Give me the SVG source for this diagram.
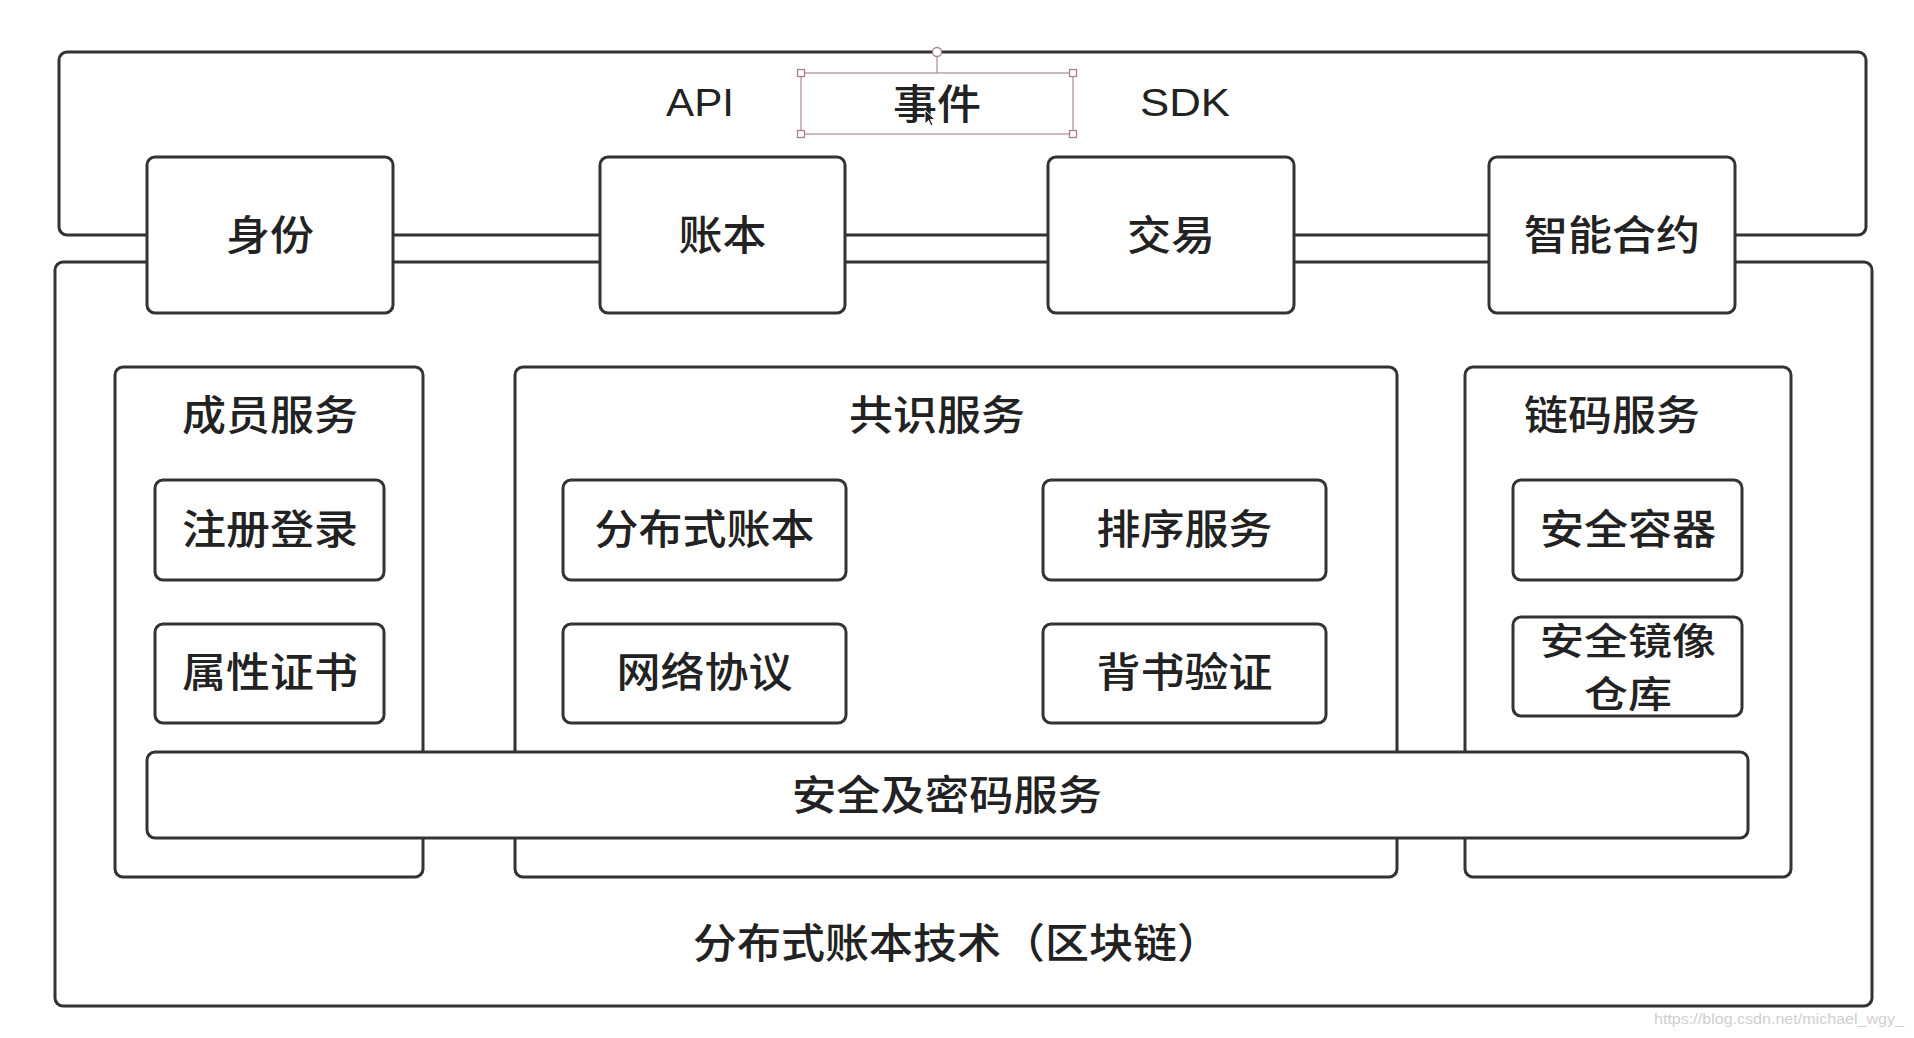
<svg xmlns="http://www.w3.org/2000/svg" width="1914" height="1038" viewBox="0 0 1914 1038">
<style>
.box{fill:#fff;stroke:#333;stroke-width:3}
.frame{fill:none;stroke:#333;stroke-width:3}
.t{font-family:"Noto Sans CJK SC","Noto Sans",sans-serif;font-size:41px;font-weight:500;fill:#222;text-anchor:middle;dominant-baseline:central}
.t2{font-size:37px}
.lat{font-family:"Liberation Sans","Noto Sans CJK SC",sans-serif;font-size:38px;font-weight:normal;fill:#222;text-anchor:middle;dominant-baseline:central}
.sel{fill:none;stroke:#b2949f;stroke-width:1.3}
.hdl{fill:#fff;stroke:#a8808f;stroke-width:1.3}
.wm{font-family:"Liberation Sans",sans-serif;font-size:15px;fill:#cfcfcf}
</style>
<rect width="1914" height="1038" fill="#fff"/>

<g id="layer-frames">
  <rect id="api-frame" class="frame" x="59" y="52" width="1807" height="183" rx="8"/>
  <rect id="dlt-frame" class="frame" x="55" y="262" width="1817" height="744" rx="8"/>
</g>

<g id="connectors">
  <line x1="937" y1="52" x2="937" y2="73" class="sel"/>
</g>

<g id="api-labels">
  <text class="lat" x="700" y="103" textLength="68" lengthAdjust="spacingAndGlyphs">API</text>
  <text class="lat" x="1185" y="103" textLength="90" lengthAdjust="spacingAndGlyphs">SDK</text>
</g>

<g id="event">
  <rect class="sel" x="801" y="73" width="272" height="61"/>
  <text class="t" x="937" y="101" textLength="88" lengthAdjust="spacingAndGlyphs">事件</text>
  <circle class="hdl" cx="937" cy="52" r="4.5"/>
  <rect class="hdl" x="797.5" y="69.5" width="7" height="7"/>
  <rect class="hdl" x="1069.5" y="69.5" width="7" height="7"/>
  <rect class="hdl" x="797.5" y="130.5" width="7" height="7"/>
  <rect class="hdl" x="1069.5" y="130.5" width="7" height="7"/>
  <path d="M925 110 L925 124 L928.5 120.5 L931 126 L933 125 L930.5 119.5 L935 119.5 Z" fill="#222" stroke="#fff" stroke-width="1"/>
</g>

<g id="node-identity">
  <rect class="box" x="147" y="157" width="246" height="156" rx="8"/>
  <text class="t" x="270" y="232" textLength="88" lengthAdjust="spacingAndGlyphs">身份</text>
</g>
<g id="node-ledger">
  <rect class="box" x="600" y="157" width="245" height="156" rx="8"/>
  <text class="t" x="722.5" y="232" textLength="88" lengthAdjust="spacingAndGlyphs">账本</text>
</g>
<g id="node-transaction">
  <rect class="box" x="1048" y="157" width="246" height="156" rx="8"/>
  <text class="t" x="1171" y="232" textLength="88" lengthAdjust="spacingAndGlyphs">交易</text>
</g>
<g id="node-contract">
  <rect class="box" x="1489" y="157" width="246" height="156" rx="8"/>
  <text class="t" x="1612" y="232" textLength="176" lengthAdjust="spacingAndGlyphs">智能合约</text>
</g>

<g id="member-service">
  <rect class="box" x="115" y="367" width="308" height="510" rx="8"/>
  <text class="t" x="270" y="412" textLength="176" lengthAdjust="spacingAndGlyphs">成员服务</text>
</g>
<g id="consensus-service">
  <rect class="box" x="515" y="367" width="882" height="510" rx="8"/>
  <text class="t" x="937" y="412" textLength="176" lengthAdjust="spacingAndGlyphs">共识服务</text>
</g>
<g id="chaincode-service">
  <rect class="box" x="1465" y="367" width="326" height="510" rx="8"/>
  <text class="t" x="1612" y="412" textLength="176" lengthAdjust="spacingAndGlyphs">链码服务</text>
</g>

<g id="node-register">
  <rect class="box" x="155" y="480" width="229" height="100" rx="8"/>
  <text class="t" x="270" y="526" textLength="176" lengthAdjust="spacingAndGlyphs">注册登录</text>
</g>
<g id="node-cert">
  <rect class="box" x="155" y="624" width="229" height="99" rx="8"/>
  <text class="t" x="270" y="669" textLength="176" lengthAdjust="spacingAndGlyphs">属性证书</text>
</g>
<g id="node-dledger">
  <rect class="box" x="563" y="480" width="283" height="100" rx="8"/>
  <text class="t" x="704.5" y="526" textLength="220" lengthAdjust="spacingAndGlyphs">分布式账本</text>
</g>
<g id="node-network">
  <rect class="box" x="563" y="624" width="283" height="99" rx="8"/>
  <text class="t" x="704.5" y="669" textLength="176" lengthAdjust="spacingAndGlyphs">网络协议</text>
</g>
<g id="node-ordering">
  <rect class="box" x="1043" y="480" width="283" height="100" rx="8"/>
  <text class="t" x="1184.5" y="526" textLength="176" lengthAdjust="spacingAndGlyphs">排序服务</text>
</g>
<g id="node-endorse">
  <rect class="box" x="1043" y="624" width="283" height="99" rx="8"/>
  <text class="t" x="1184.5" y="669" textLength="176" lengthAdjust="spacingAndGlyphs">背书验证</text>
</g>
<g id="node-container">
  <rect class="box" x="1513" y="480" width="229" height="100" rx="8"/>
  <text class="t" x="1628" y="526" textLength="176" lengthAdjust="spacingAndGlyphs">安全容器</text>
</g>
<g id="node-registry">
  <rect class="box" x="1513" y="617" width="229" height="99" rx="8"/>
  <text class="t t2" x="1628" y="639" textLength="176" lengthAdjust="spacingAndGlyphs">安全镜像</text>
  <text class="t t2" x="1628" y="692" textLength="88" lengthAdjust="spacingAndGlyphs">仓库</text>
</g>

<g id="node-crypto">
  <rect class="box" x="147" y="752" width="1601" height="86" rx="8"/>
  <text class="t" x="947" y="792" textLength="310" lengthAdjust="spacingAndGlyphs">安全及密码服务</text>
</g>

<g id="dlt-label">
  <text class="t" x="693" y="940" style="text-anchor:start" textLength="528" lengthAdjust="spacingAndGlyphs">分布式账本技术（区块链）</text>
</g>

<text class="wm" x="1654" y="1024" textLength="250" lengthAdjust="spacingAndGlyphs">https://blog.csdn.net/michael_wgy_</text>
</svg>
